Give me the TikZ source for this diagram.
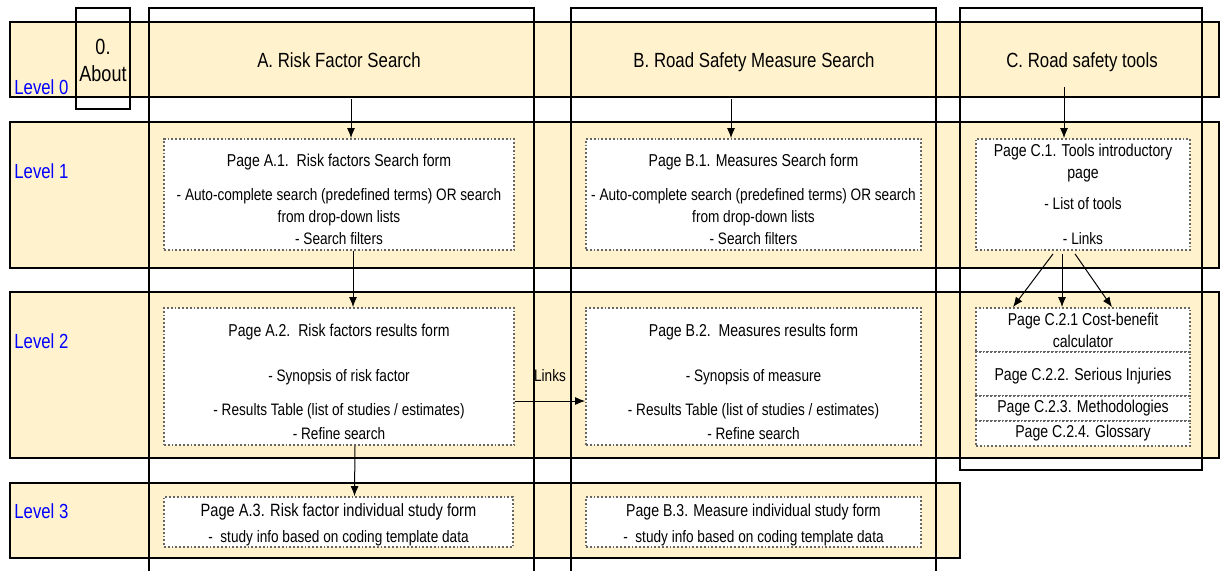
\documentclass[tikz,border=0pt]{standalone}
\usepackage{fontspec}
\setmainfont{Liberation Sans}[FakeStretch=0.82]
\usetikzlibrary{positioning,arrows.meta}

\definecolor{fff2cc}{rgb}{1, 0.95, 0.8}
\definecolor{qqqqff}{rgb}{0, 0, 1}
\definecolor{wwwwww}{rgb}{0.4, 0.4, 0.4}

\newcommand{\titpag}[1]{{\fontsize{8.6}{11}\selectfont #1}}

\tikzset{
    banda/.style={draw=black, line width=1pt, fill=fff2cc},
    columna/.style={draw=black, line width=1pt},
    nivel/.style={anchor=west, text=qqqqff, font=\fontsize{10.2}{11}\selectfont, inner sep=0pt},
    cabecera/.style={anchor=base, align=center, font=\fontsize{10.25}{11}\selectfont},
    pagina/.style={draw=wwwwww, densely dotted, line width=0.9pt, fill=white, align=center,
        inner sep=0pt, font=\fontsize{8.3}{11}\selectfont},
    flecha/.style={-{Latex[length=5pt,width=4pt]}, line width=0.5pt},
}

\begin{document}
\begin{tikzpicture}[x=0.5pt, y=-0.5pt]
        \useasboundingbox (0, 0) rectangle (1220, 570);

        % bandas de niveles
        \foreach \ya/\yb in {22/97, 122/268, 292/458}
        \draw[banda] (10, \ya) rectangle (1219, \yb);
        \draw[banda] (10, 483) rectangle (960, 558);

        % columnas
        \draw[columna] (76, 8) rectangle (130, 109);
        \draw[columna] (149, 8) rectangle (534, 580);
        \draw[columna] (571, 8) rectangle (936, 580);
        \draw[columna] (960, 8) rectangle (1202, 470);

        \foreach \n/\y in {0/87, 1/171, 2/341, 3/511}
        \node[nivel] (nivel\n) at (14, \y) {Level \n};

        \node[align=center, font=\fontsize{11}{13.5}\selectfont] (about) at (103, 60) {0.\\About};
        \node[cabecera] (cabA) at (339, 67) {A. Risk Factor Search};
        \node[cabecera] (cabB) at (754, 67) {B. Road Safety Measure Search};
        \node[cabecera] (cabC) at (1082, 67) {C. Road safety tools};

        % nivel 1
        \node[pagina, minimum width=175pt, minimum height=55.5pt] (a1) at (339, 194.5)
            {\rule{0pt}{11pt}\titpag{Page A.1.\ \ Risk factors Search form}\\[6pt]
             - Auto-complete search (predefined terms) OR search\\ from drop-down lists\\ - Search filters};
        \node[pagina, minimum width=167.5pt, minimum height=55.5pt] (b1) at (753.5, 194.5)
            {\rule{0pt}{11pt}\titpag{Page B.1. Measures Search form}\\[6pt]
             - Auto-complete search (predefined terms) OR search\\ from drop-down lists\\ - Search filters};
        \node[pagina, minimum width=107pt, minimum height=55.5pt] (c1) at (1083, 194.5)
            {\titpag{Page C.1. Tools introductory}\\ \titpag{page}\\[4.5pt] - List of tools\\[6.5pt] - Links};

        % nivel 2
        \node[pagina, minimum width=175pt, minimum height=68.5pt] (a2) at (339, 376.5)
            {\rule{0pt}{11.5pt}\titpag{Page A.2.\ \ Risk factors results form}\\[11.5pt] - Synopsis of risk factor\\[6pt]
             - Results Table (list of studies / estimates)\\[1pt] - Refine search};
        \node[pagina, minimum width=167.5pt, minimum height=68.5pt] (b2) at (753.5, 376.5)
            {\rule{0pt}{11.5pt}\titpag{Page B.2.\ \ Measures results form}\\[11.5pt] - Synopsis of measure\\[6pt]
             - Results Table (list of studies / estimates)\\[1pt] - Refine search};
        \node[pagina, minimum width=107pt, minimum height=22pt] (c21) at (1083, 330)
            {\titpag{Page C.2.1 Cost-benefit}\\ \titpag{calculator}};
        \node[pagina, minimum width=107pt, minimum height=22pt] (c22) at (1083, 374)
            {\rule{0pt}{8pt}\titpag{Page C.2.2. Serious Injuries}};
        \node[pagina, minimum width=107pt, minimum height=12.5pt] (c23) at (1083, 408.5)
            {\titpag{Page C.2.3. Methodologies}};
        \node[pagina, minimum width=107pt, minimum height=12.5pt] (c24) at (1083, 433.5)
            {\titpag{Page C.2.4. Glossary}};

        % nivel 3
        \node[pagina, minimum width=174.5pt, minimum height=25pt] (a3) at (338.5, 522)
            {\rule{0pt}{9pt}{\fontsize{8.9}{11}\selectfont Page A.3. Risk factor individual study form}\\[2pt]
             -\ \ study info based on coding template data};
        \node[pagina, minimum width=167.5pt, minimum height=25pt] (b3) at (753.5, 522)
            {\rule{0pt}{9pt}\titpag{Page B.3. Measure individual study form}\\[2pt]
             -\ \ study info based on coding template data};

        % flechas
        \coordinate (inA) at (351, 99);
        \coordinate (inB) at (731, 99);
        \coordinate (inC) at (1064, 87);
        \draw[flecha] (inA) -- (a1.north -| inA);
        \draw[flecha] (inB) -- (b1.north -| inB);
        \draw[flecha] (inC) -- (c1.north -| inC);

        \draw[flecha] ([xshift=7pt]a1.south) -- ([xshift=7pt]a2.north);
        \draw[flecha] ([xshift=8pt]a2.south) -- ([xshift=8pt]a3.north);
        \draw[flecha] ([yshift=-12.25pt]a2.east) -- ([yshift=-12.25pt]b2.west)
            node[midway, above=9.5pt, font=\fontsize{8.3}{11}\selectfont, inner sep=0pt] (links) {Links};

        \foreach \ini/\fin in {-15/-35, -10.5/-10.5, -4/14.5}
        \draw[flecha] ([xshift=\ini pt, yshift=-1.5pt]c1.south) -- ([xshift=\fin pt]c21.north);
    \end{tikzpicture}
\end{document}
